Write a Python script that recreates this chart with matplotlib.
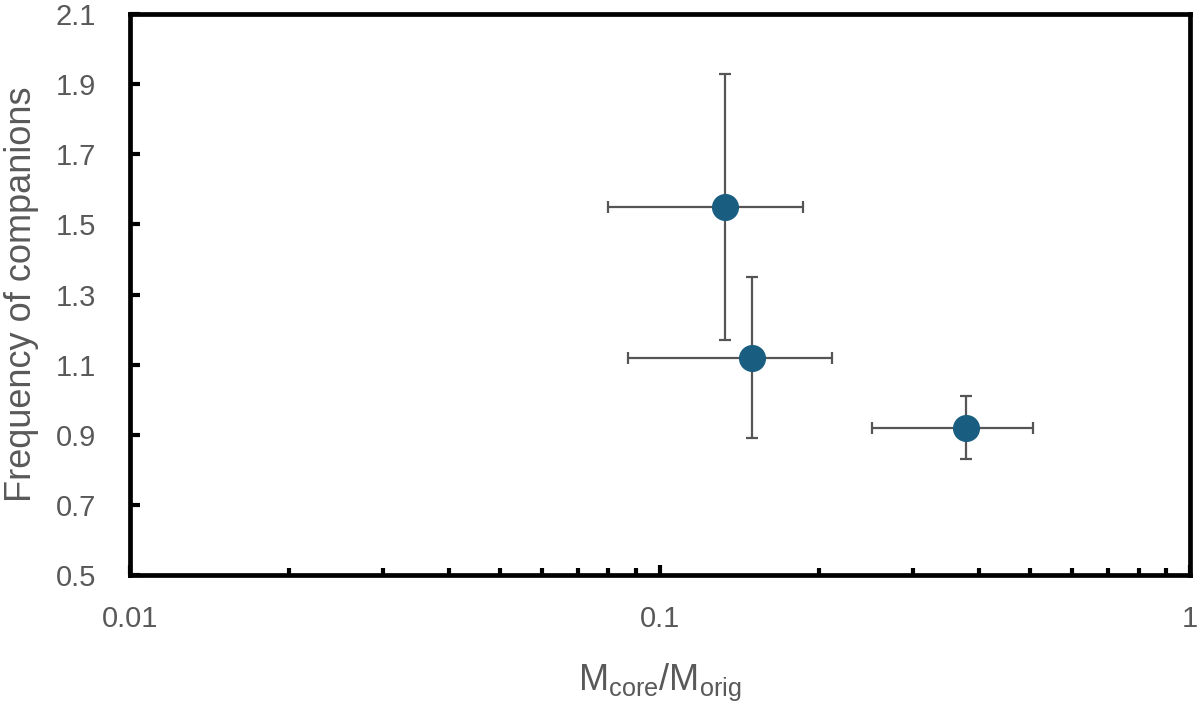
import matplotlib
matplotlib.use("Agg")
import matplotlib.pyplot as plt
from matplotlib.ticker import FixedLocator, LogLocator, NullFormatter

# data
mass_ratio = [0.133, 0.149, 0.378]
mass_ratio_err = [0.053, 0.062, 0.127]
freq = [1.55, 1.12, 0.92]
freq_err = [0.38, 0.23, 0.09]

x_ticks = [0.01, 0.1, 1]
x_labels = ["0.01", "0.1", "1"]
y_ticks = [0.5, 0.7, 0.9, 1.1, 1.3, 1.5, 1.7, 1.9, 2.1]

plt.rcParams["font.family"] = ["Liberation Sans", "DejaVu Sans"]
plt.rcParams["mathtext.fontset"] = "custom"
plt.rcParams["mathtext.rm"] = "Liberation Sans"

grey = "#595959"

fig = plt.figure(figsize=(12, 7.08), dpi=100)
ax = fig.add_axes([0.108, 0.188, 0.8837, 0.792])

ax.errorbar(mass_ratio, freq, xerr=mass_ratio_err, yerr=freq_err,
            fmt="o", color="#195E80", markersize=18.5,
            ecolor="#555555", elinewidth=1.6, capsize=4.5, capthick=1.6, zorder=3)

ax.set_xscale("log")
ax.set_xlim(0.01, 1)
ax.set_ylim(0.5, 2.1)
ax.xaxis.set_major_locator(FixedLocator(x_ticks))
ax.set_xticklabels(x_labels)
ax.xaxis.set_minor_locator(LogLocator(base=10, subs=range(2, 10)))
ax.xaxis.set_minor_formatter(NullFormatter())
ax.set_yticks(y_ticks)
ax.set_yticklabels([f"{v:.1f}" for v in y_ticks])

for sp in ax.spines.values():
    sp.set_linewidth(3.4)
    sp.set_color("black")

ax.tick_params(axis="both", which="major", direction="in", length=7, width=3,
               labelsize=21, labelcolor=grey, pad=24, color="black")
ax.tick_params(axis="x", which="major", pad=22)
ax.tick_params(axis="x", which="minor", direction="in", length=5, width=3, color="black")
ax.tick_params(top=False, right=False, which="both")

ax.set_xlabel(r"M$_{\rm core}$/M$_{\rm orig}$", fontsize=26, color=grey, labelpad=20)
ax.set_ylabel("Frequency of companions", fontsize=26, color=grey, labelpad=12)

fig.savefig("out.png", dpi=100)
